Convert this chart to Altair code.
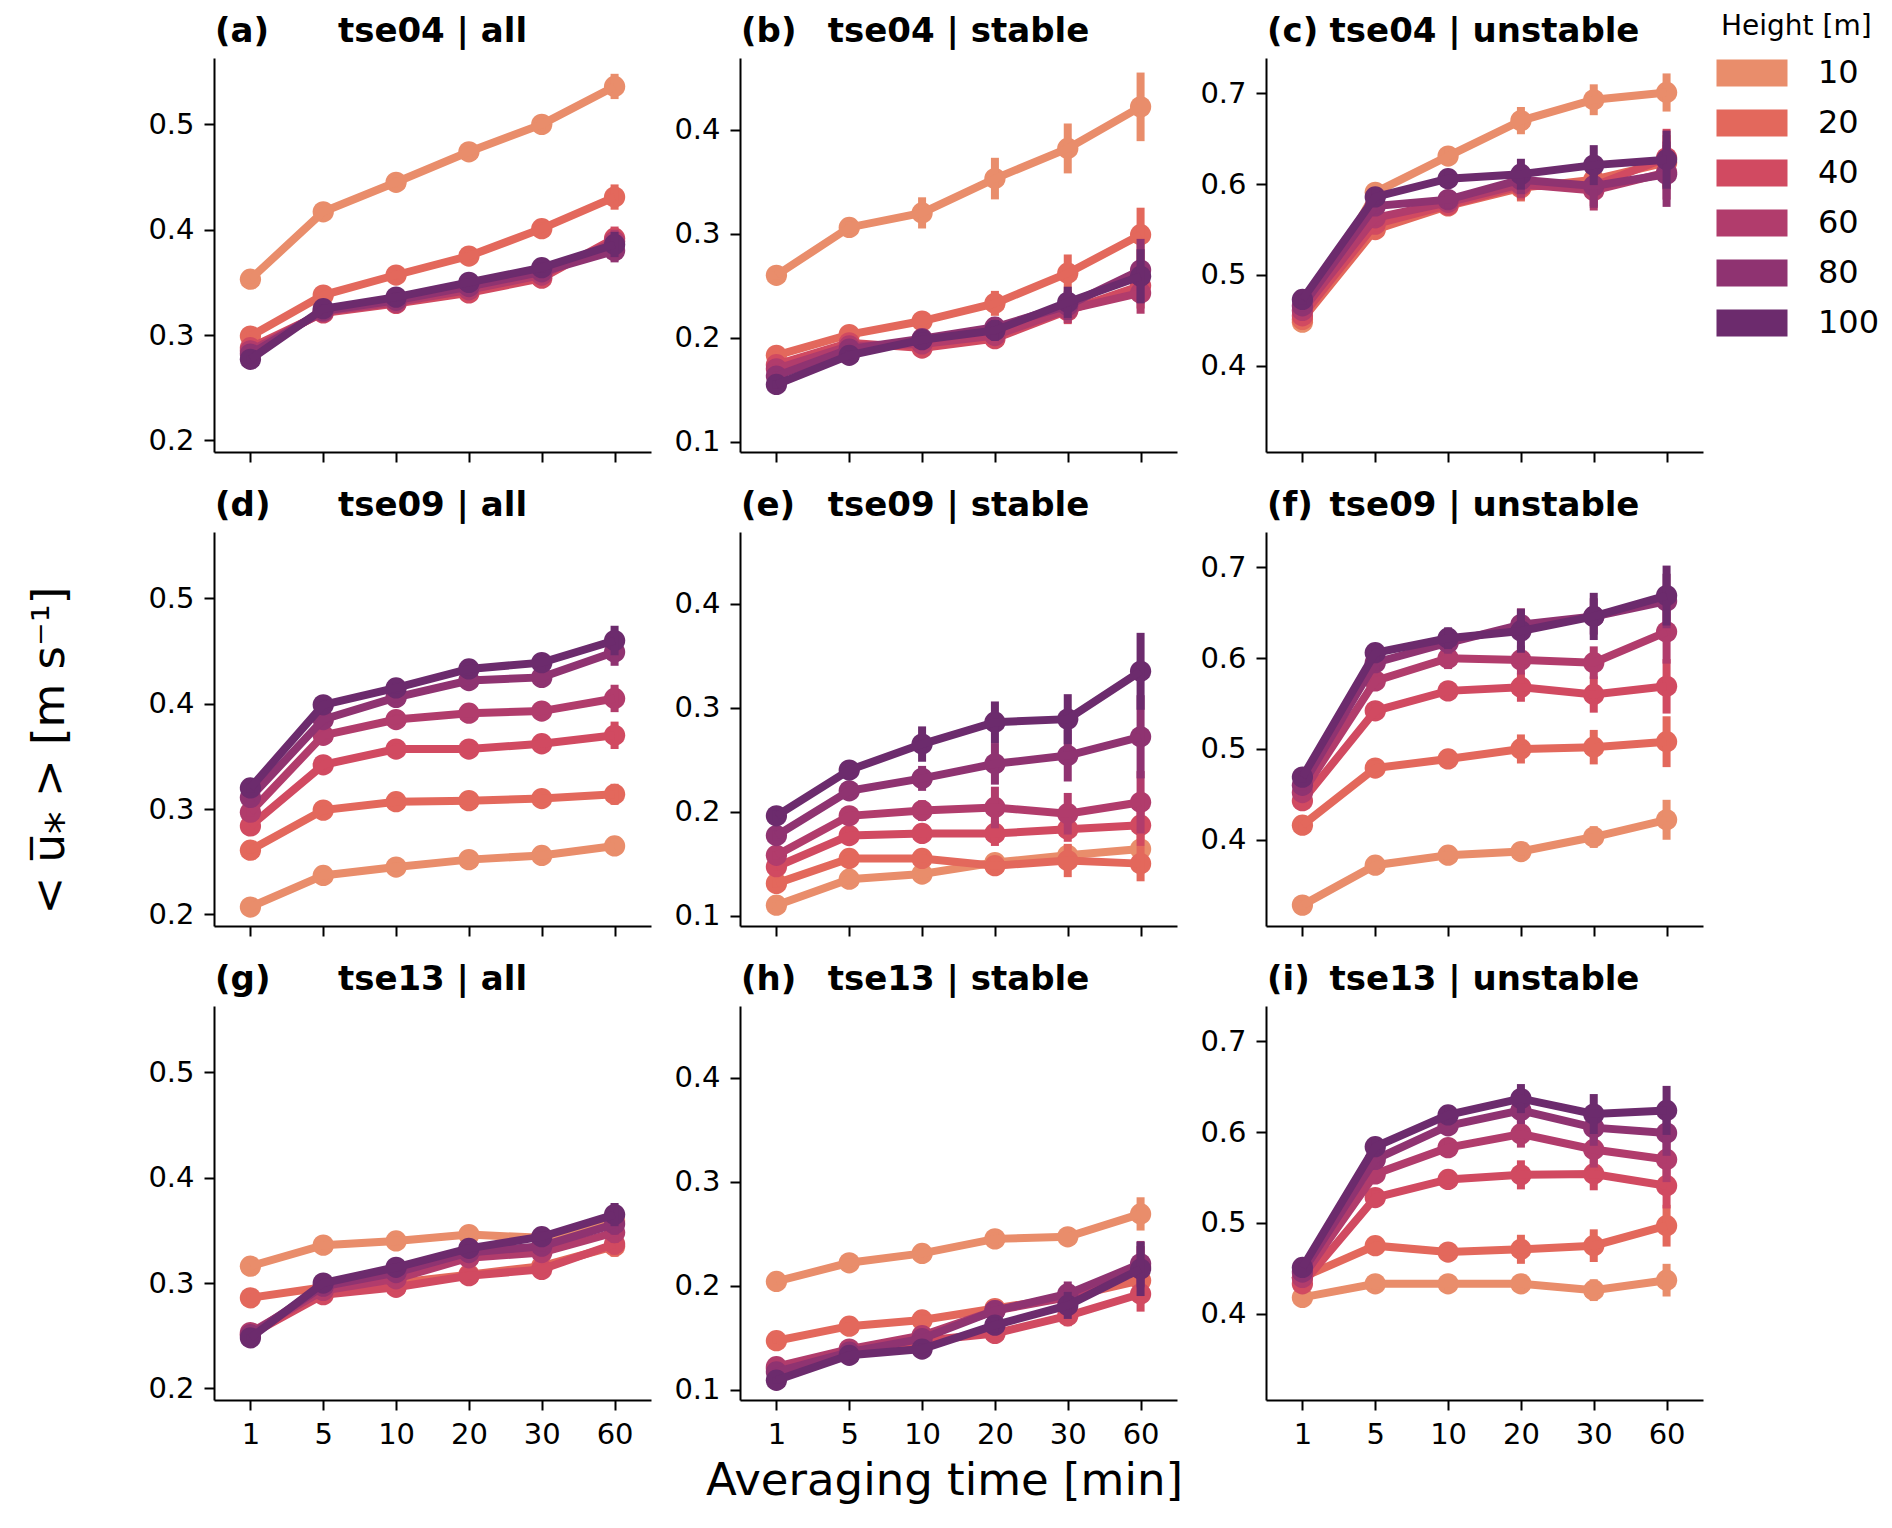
import altair as alt
import pandas as pd

times = ["1", "5", "10", "20", "30", "60"]
heights = ["10", "20", "40", "60", "80", "100"]
palette = ["#e98d6b", "#e3685c", "#d14a61", "#b13c6c", "#8f3371", "#6c2b6d"]

letters = ["(a)", "(b)", "(c)", "(d)", "(e)", "(f)", "(g)", "(h)", "(i)"]
titles = ["tse04 | all", "tse04 | stable", "tse04 | unstable",
          "tse09 | all", "tse09 | stable", "tse09 | unstable",
          "tse13 | all", "tse13 | stable", "tse13 | unstable"]

y_domains = [[0.189, 0.563], [0.090, 0.469], [0.305, 0.739]]
y_ticks = [[0.2, 0.3, 0.4, 0.5], [0.1, 0.2, 0.3, 0.4], [0.4, 0.5, 0.6, 0.7]]

# mean u* per height (rows: 10,20,40,60,80,100 m) and averaging time (cols)
u_a = [[0.353, 0.417, 0.445, 0.474, 0.500, 0.536],
       [0.299, 0.338, 0.357, 0.375, 0.401, 0.431],
       [0.288, 0.321, 0.330, 0.340, 0.354, 0.392],
       [0.285, 0.322, 0.331, 0.343, 0.357, 0.389],
       [0.282, 0.323, 0.333, 0.346, 0.360, 0.380],
       [0.277, 0.325, 0.336, 0.350, 0.364, 0.386]]
u_b = [[0.260, 0.306, 0.320, 0.353, 0.382, 0.422],
       [0.183, 0.203, 0.216, 0.233, 0.262, 0.299],
       [0.174, 0.195, 0.190, 0.199, 0.226, 0.250],
       [0.170, 0.192, 0.194, 0.202, 0.227, 0.243],
       [0.163, 0.189, 0.199, 0.210, 0.231, 0.265],
       [0.155, 0.183, 0.198, 0.207, 0.234, 0.259]]
u_c = [[0.448, 0.591, 0.631, 0.670, 0.693, 0.701],
       [0.451, 0.550, 0.576, 0.596, 0.605, 0.624],
       [0.455, 0.556, 0.577, 0.598, 0.598, 0.629],
       [0.461, 0.563, 0.580, 0.600, 0.593, 0.613],
       [0.466, 0.576, 0.583, 0.605, 0.598, 0.611],
       [0.473, 0.586, 0.606, 0.611, 0.621, 0.627]]
u_d = [[0.207, 0.237, 0.245, 0.252, 0.256, 0.265],
       [0.261, 0.299, 0.307, 0.308, 0.310, 0.314],
       [0.284, 0.342, 0.357, 0.357, 0.362, 0.370],
       [0.297, 0.370, 0.385, 0.391, 0.393, 0.405],
       [0.311, 0.385, 0.406, 0.422, 0.425, 0.449],
       [0.320, 0.399, 0.415, 0.433, 0.439, 0.460]]
u_e = [[0.110, 0.135, 0.140, 0.151, 0.158, 0.164],
       [0.131, 0.155, 0.155, 0.148, 0.153, 0.150],
       [0.147, 0.177, 0.179, 0.179, 0.183, 0.187],
       [0.158, 0.196, 0.201, 0.204, 0.198, 0.209],
       [0.177, 0.220, 0.232, 0.246, 0.254, 0.272],
       [0.196, 0.240, 0.265, 0.286, 0.289, 0.335]]
u_f = [[0.328, 0.372, 0.383, 0.387, 0.403, 0.422],
       [0.416, 0.479, 0.489, 0.500, 0.502, 0.508],
       [0.443, 0.542, 0.564, 0.568, 0.560, 0.569],
       [0.452, 0.575, 0.600, 0.598, 0.595, 0.629],
       [0.460, 0.595, 0.617, 0.637, 0.646, 0.663],
       [0.469, 0.606, 0.622, 0.630, 0.646, 0.669]]
u_g = [[0.316, 0.336, 0.340, 0.346, 0.343, 0.359],
       [0.286, 0.296, 0.300, 0.308, 0.316, 0.335],
       [0.251, 0.289, 0.296, 0.307, 0.313, 0.337],
       [0.253, 0.293, 0.304, 0.324, 0.329, 0.348],
       [0.251, 0.297, 0.310, 0.329, 0.335, 0.356],
       [0.248, 0.300, 0.315, 0.333, 0.344, 0.365]]
u_h = [[0.204, 0.222, 0.231, 0.245, 0.247, 0.269],
       [0.147, 0.161, 0.167, 0.178, 0.189, 0.205],
       [0.120, 0.136, 0.147, 0.154, 0.171, 0.192],
       [0.122, 0.139, 0.152, 0.176, 0.189, 0.218],
       [0.117, 0.136, 0.149, 0.176, 0.192, 0.221],
       [0.109, 0.133, 0.139, 0.162, 0.181, 0.216]]
u_i = [[0.418, 0.433, 0.433, 0.433, 0.426, 0.437],
       [0.440, 0.475, 0.468, 0.471, 0.475, 0.497],
       [0.433, 0.528, 0.548, 0.553, 0.554, 0.541],
       [0.440, 0.554, 0.583, 0.598, 0.581, 0.570],
       [0.446, 0.570, 0.607, 0.624, 0.605, 0.599],
       [0.451, 0.584, 0.619, 0.637, 0.620, 0.624]]

# half-length of the error bars
e_a = [[0.004, 0.004, 0.005, 0.005, 0.006, 0.012],
       [0.004, 0.004, 0.004, 0.005, 0.006, 0.012],
       [0.004, 0.004, 0.004, 0.004, 0.005, 0.011],
       [0.004, 0.004, 0.004, 0.004, 0.005, 0.011],
       [0.004, 0.004, 0.004, 0.004, 0.005, 0.011],
       [0.004, 0.004, 0.004, 0.004, 0.005, 0.012]]
e_b = [[0.004, 0.006, 0.015, 0.020, 0.024, 0.033],
       [0.004, 0.005, 0.007, 0.012, 0.018, 0.026],
       [0.004, 0.005, 0.006, 0.009, 0.013, 0.022],
       [0.004, 0.005, 0.006, 0.009, 0.013, 0.020],
       [0.004, 0.005, 0.006, 0.010, 0.014, 0.030],
       [0.004, 0.005, 0.007, 0.010, 0.015, 0.026]]
e_c = [[0.006, 0.008, 0.010, 0.015, 0.017, 0.021],
       [0.006, 0.008, 0.010, 0.015, 0.020, 0.030],
       [0.006, 0.008, 0.010, 0.015, 0.022, 0.032],
       [0.006, 0.008, 0.010, 0.015, 0.022, 0.030],
       [0.006, 0.008, 0.010, 0.016, 0.024, 0.036],
       [0.006, 0.008, 0.010, 0.017, 0.022, 0.032]]
e_d = [[0.003, 0.003, 0.004, 0.004, 0.005, 0.007],
       [0.003, 0.004, 0.004, 0.005, 0.006, 0.010],
       [0.003, 0.004, 0.005, 0.005, 0.007, 0.013],
       [0.004, 0.004, 0.005, 0.006, 0.007, 0.013],
       [0.004, 0.005, 0.005, 0.006, 0.007, 0.013],
       [0.004, 0.005, 0.005, 0.006, 0.007, 0.014]]
e_e = [[0.003, 0.005, 0.006, 0.008, 0.010, 0.014],
       [0.004, 0.006, 0.007, 0.009, 0.016, 0.017],
       [0.004, 0.006, 0.008, 0.012, 0.012, 0.020],
       [0.004, 0.006, 0.010, 0.020, 0.020, 0.030],
       [0.005, 0.007, 0.012, 0.020, 0.025, 0.040],
       [0.005, 0.008, 0.017, 0.020, 0.024, 0.037]]
e_f = [[0.005, 0.007, 0.008, 0.008, 0.012, 0.022],
       [0.006, 0.008, 0.010, 0.016, 0.019, 0.028],
       [0.006, 0.008, 0.010, 0.016, 0.020, 0.030],
       [0.006, 0.009, 0.012, 0.016, 0.018, 0.035],
       [0.006, 0.009, 0.012, 0.018, 0.020, 0.030],
       [0.006, 0.009, 0.012, 0.024, 0.026, 0.033]]
e_g = [[0.003, 0.003, 0.004, 0.004, 0.005, 0.010],
       [0.003, 0.003, 0.004, 0.004, 0.005, 0.010],
       [0.003, 0.003, 0.004, 0.004, 0.005, 0.010],
       [0.003, 0.003, 0.004, 0.004, 0.005, 0.010],
       [0.003, 0.003, 0.004, 0.004, 0.005, 0.010],
       [0.003, 0.003, 0.004, 0.004, 0.005, 0.011]]
e_h = [[0.003, 0.004, 0.005, 0.006, 0.008, 0.016],
       [0.003, 0.004, 0.005, 0.006, 0.010, 0.015],
       [0.003, 0.004, 0.005, 0.006, 0.010, 0.017],
       [0.003, 0.004, 0.005, 0.007, 0.011, 0.020],
       [0.003, 0.004, 0.005, 0.007, 0.012, 0.022],
       [0.003, 0.004, 0.005, 0.007, 0.013, 0.026]]
e_i = [[0.005, 0.006, 0.007, 0.008, 0.012, 0.018],
       [0.005, 0.007, 0.008, 0.016, 0.018, 0.023],
       [0.005, 0.008, 0.010, 0.016, 0.018, 0.025],
       [0.005, 0.008, 0.010, 0.015, 0.020, 0.025],
       [0.005, 0.008, 0.010, 0.015, 0.020, 0.025],
       [0.005, 0.008, 0.010, 0.016, 0.022, 0.027]]

means = [u_a, u_b, u_c, u_d, u_e, u_f, u_g, u_h, u_i]
errs = [e_a, e_b, e_c, e_d, e_e, e_f, e_g, e_h, e_i]

rows = []
for k in range(9):
    for hi_, h in enumerate(heights):
        for ti, t in enumerate(times):
            m = means[k][hi_][ti]
            e = errs[k][hi_][ti]
            rows.append({"panel": k, "height": h, "t": t, "u": m,
                         "lo": m - e, "hi": m + e})
df = pd.DataFrame(rows)

W, H = 437, 394
LW = 8
FONT = "DejaVu Sans"

cscale = alt.Scale(domain=heights, range=palette)
legend = alt.Legend(
    title="Height [m]", orient="none", legendX=1507, legendY=-45,
    symbolType="M-2.63,-1H2.63V1H-2.63Z", symbolSize=729,
    symbolStrokeWidth=0, symbolOpacity=1, symbolOffset=15,
    titleFont=FONT, titleFontSize=28, titleFontWeight="normal",
    titleColor="black", titlePadding=16,
    labelFont=FONT, labelFontSize=32, labelColor="black",
    labelOffset=50, rowPadding=18,
)


def panel(k):
    col, row = k % 3, k // 3
    xax = dict(labels=(row == 2), title=None, labelAngle=0, labelPadding=10)
    if k == 7:
        xax.update(title="Averaging time [min]", titleFontSize=45,
                   titleX=204, titleY=94, titleAlign="center",
                   titleBaseline="alphabetic", titleFontWeight="normal")
    yax = dict(values=y_ticks[col], format=".1f", title=None, labelPadding=10)
    if k == 3:
        yax.update(title="< u\u0305\u204e >  [m s\u207b\u00b9]", titleFontSize=45,
                   titleAngle=270, titleX=-151, titleY=218,
                   titleAlign="center", titleBaseline="alphabetic",
                   titleFontWeight="normal")
    xenc = alt.X("t:N", sort=times,
                 scale=alt.Scale(type="point", domain=times, padding=0.5),
                 axis=alt.Axis(**xax))
    yscale = alt.Scale(domain=y_domains[col], nice=False, zero=False)
    cenc = alt.Color("height:N", scale=cscale, legend=legend)
    base = alt.Chart(df).transform_filter(alt.datum.panel == k)
    layers = []
    for h in heights:
        b = base.transform_filter(alt.datum.height == h)
        # circle first so that the shared legend takes filled symbols
        layers.append(b.mark_circle(size=452, opacity=1).encode(
            x=xenc,
            y=alt.Y("u:Q", scale=yscale, axis=alt.Axis(**yax)),
            color=cenc))
        layers.append(b.mark_rule(strokeWidth=LW).encode(
            x=xenc,
            y=alt.Y("lo:Q", scale=yscale, axis=alt.Axis(**yax)),
            y2="hi:Q", color=cenc))
        layers.append(b.mark_line(strokeWidth=LW).encode(
            x=xenc,
            y=alt.Y("u:Q", scale=yscale, axis=alt.Axis(**yax)),
            color=cenc))
    lab = alt.Chart(pd.DataFrame({"lab": [letters[k]], "ttl": [titles[k]]}))
    t1 = lab.mark_text(align="left", baseline="alphabetic", fontSize=34,
                       fontWeight="bold", font=FONT, color="black").encode(
        x=alt.value(1), y=alt.value(-16), text="lab:N")
    t2 = lab.mark_text(align="center", baseline="alphabetic", fontSize=34,
                       fontWeight="bold", font=FONT, color="black").encode(
        x=alt.value(W / 2), y=alt.value(-16), text="ttl:N")
    return alt.layer(*layers, t1, t2).properties(width=W, height=H)


chart = alt.concat(*[panel(k) for k in range(9)], columns=3,
                   spacing={"row": 80, "column": 89}, bounds="flush").properties(
    padding={"left": 19, "top": 5, "right": 0, "bottom": 10}
).configure_view(stroke=None).configure_axis(
    grid=False, domainColor="black", domainWidth=2, tickColor="black",
    tickWidth=2, tickSize=10, labelFontSize=29, labelColor="black",
    labelFont=FONT, titleFont=FONT, titleColor="black",
)

chart.save("out.html", embed_options={"renderer": "svg", "actions": False})
